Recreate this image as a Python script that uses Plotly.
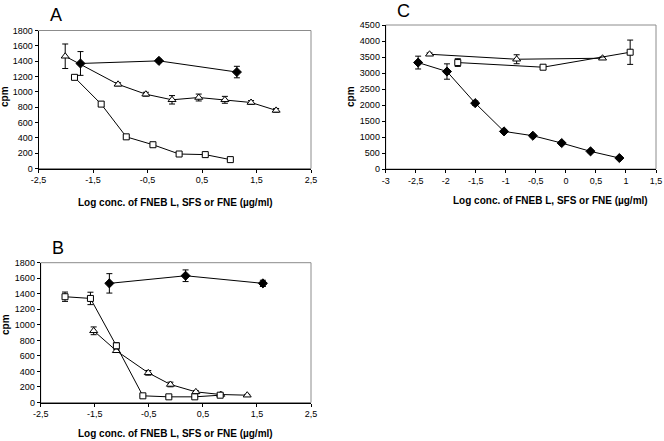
import plotly.graph_objects as go

# ---------------- Data ----------------
# Panel A
a_tri_x = [-2.01, -1.04, -0.53, -0.05, 0.44, 0.92, 1.40, 1.86]
a_tri_y = [1464, 1098, 969, 896, 926, 896, 861, 758]
a_tri_e = [160, 20, 25, 55, 45, 45, 25, 25]
a_dia_x = [-1.73, -0.29, 1.14]
a_dia_y = [1370, 1404, 1258]
a_dia_e = [155, 20, 75]
a_sq_x = [-1.84, -1.35, -0.89, -0.40, 0.08, 0.56, 1.02]
a_sq_y = [1189, 840, 413, 310, 189, 181, 116]
a_sq_e = [20, 30, 15, 15, 15, 10, 10]

# Panel B
b_dia_x = [-1.23, 0.18, 1.61]
b_dia_y = [1534, 1632, 1534]
b_dia_e = [125, 75, 40]
b_sq_x = [-2.05, -1.58, -1.10, -0.61, -0.13, 0.35, 0.82]
b_sq_y = [1362, 1340, 730, 86, 73, 73, 94]
b_sq_e = [60, 80, 40, 10, 10, 10, 10]
b_tri_x = [-1.52, -1.10, -0.51, -0.10, 0.37, 0.83, 1.32]
b_tri_y = [923, 666, 382, 232, 137, 103, 94]
b_tri_e = [50, 20, 30, 30, 15, 10, 10]

# Panel C
c_dia_x = [-2.46, -1.98, -1.51, -1.03, -0.55, -0.07, 0.41, 0.89]
c_dia_y = [3326, 3046, 2058, 1175, 1040, 811, 551, 343]
c_dia_e = [200, 240, 70, 40, 40, 40, 40, 40]
c_tri_x = [-2.27, -0.82, 0.61]
c_tri_y = [3586, 3430, 3462]
c_tri_e = [40, 140, 40]
c_sq_x = [-1.80, -0.38, 1.07]
c_sq_y = [3326, 3181, 3649]
c_sq_e = [120, 60, 380]

ab_ticks = [-2.5, -1.5, -0.5, 0.5, 1.5, 2.5]
ab_ticktext = ["-2,5", "-1,5", "-0,5", "0,5", "1,5", "2,5"]
ab_yticks = [0, 200, 400, 600, 800, 1000, 1200, 1400, 1600, 1800]
c_ticks = [-3, -2.5, -2, -1.5, -1, -0.5, 0, 0.5, 1, 1.5]
c_ticktext = ["-3", "-2,5", "-2", "-1,5", "-1", "-0,5", "0", "0,5", "1", "1,5"]
c_yticks = [0, 500, 1000, 1500, 2000, 2500, 3000, 3500, 4000, 4500]

xtitle = "Log conc. of FNEB L, SFS or FNE (µg/ml)"

# ---------------- Figure ----------------
W, H = 664, 441
FONT = "Liberation Sans, Arial, sans-serif"
fig = go.Figure()

def px_x(p):
    return p / W

def px_y(p):
    return 1 - p / H

def add_series(x, y, e, symbol, fill, xa, ya, size):
    fig.add_trace(go.Scatter(
        x=x, y=y, mode="lines+markers", xaxis=xa, yaxis=ya,
        line=dict(color="black", width=1),
        marker=dict(symbol=symbol, size=size, color=fill,
                    line=dict(color="black", width=1)),
        error_y=dict(type="data", array=e, visible=True,
                     color="black", thickness=1, width=3),
        showlegend=False, cliponaxis=False))

# A -> x/y, B -> x2/y2, C -> x3/y3
add_series(a_dia_x, a_dia_y, a_dia_e, "diamond", "black", "x", "y", 7)
add_series(a_tri_x, a_tri_y, a_tri_e, "triangle-up", "white", "x", "y", 7)
add_series(a_sq_x, a_sq_y, a_sq_e, "square", "white", "x", "y", 6)

add_series(b_dia_x, b_dia_y, b_dia_e, "diamond", "black", "x2", "y2", 7)
add_series(b_tri_x, b_tri_y, b_tri_e, "triangle-up", "white", "x2", "y2", 7)
add_series(b_sq_x, b_sq_y, b_sq_e, "square", "white", "x2", "y2", 6)

add_series(c_dia_x, c_dia_y, c_dia_e, "diamond", "black", "x3", "y3", 7)
add_series(c_tri_x, c_tri_y, c_tri_e, "triangle-up", "white", "x3", "y3", 7)
add_series(c_sq_x, c_sq_y, c_sq_e, "square", "white", "x3", "y3", 6)

tickfont = dict(family=FONT, size=9, color="black")

def xaxis(domain, anchor, rng, tv, tt):
    return dict(domain=domain, anchor=anchor, range=rng, tickvals=tv, ticktext=tt,
                showgrid=False, zeroline=False, showline=True, linecolor="black",
                linewidth=1, ticks="outside", ticklen=3, tickcolor="black",
                tickfont=tickfont, automargin=False, ticklabeloverflow="allow")

def yaxis(domain, anchor, rng, tv):
    return dict(domain=domain, anchor=anchor, range=rng, tickvals=tv,
                showgrid=False, zeroline=False, showline=True, linecolor="black",
                linewidth=1, ticks="outside", ticklen=3, tickcolor="black",
                tickfont=tickfont, automargin=False, ticklabeloverflow="allow")

A_x = [px_x(38.5), px_x(311)]
A_y = [px_y(168.5), px_y(30.5)]
B_x = [px_x(40.7), px_x(311)]
B_y = [px_y(402.5), px_y(262.7)]
C_x = [px_x(385.7), px_x(656)]
C_y = [px_y(169), px_y(25)]

fig.update_layout(
    template="none",
    width=W, height=H, margin=dict(l=0, r=0, t=0, b=0, pad=0),
    paper_bgcolor="white", plot_bgcolor="white",
    font=dict(family=FONT, color="black"),
    xaxis=xaxis(A_x, "y", [-2.5, 2.5], ab_ticks, ab_ticktext),
    yaxis=yaxis(A_y, "x", [0, 1800], ab_yticks),
    xaxis2=xaxis(B_x, "y2", [-2.5, 2.5], ab_ticks, ab_ticktext),
    yaxis2=yaxis(B_y, "x2", [0, 1800], ab_yticks),
    xaxis3=xaxis(C_x, "y3", [-3, 1.5], c_ticks, c_ticktext),
    yaxis3=yaxis(C_y, "x3", [0, 4500], c_yticks),
)

# Gray frame boxes
for xr, yr in [("x", "y"), ("x2", "y2"), ("x3", "y3")]:
    fig.add_shape(type="rect", xref=f"{xr} domain", yref=f"{yr} domain",
                  x0=0, x1=1, y0=0, y1=1, line=dict(color="#8c8c8c", width=1),
                  layer="below")

ann = []
for cx, cy in [(175, 202), (175, 433), (550, 200)]:
    ann.append(dict(text="<b>" + xtitle + "</b>", x=px_x(cx), y=px_y(cy), xref="paper", yref="paper",
                    showarrow=False, font=dict(family=FONT, size=10, color="black"),
                    xanchor="center", yanchor="middle"))
for cx, cy in [(5, 97), (5, 325), (351, 97)]:
    ann.append(dict(text="<b>cpm</b>", x=px_x(cx), y=px_y(cy), xref="paper", yref="paper",
                    showarrow=False, textangle=-90, font=dict(family=FONT, size=10, color="black"),
                    xanchor="center", yanchor="middle"))
for t, cx, cy in [("A", 56, 15), ("B", 58, 248), ("C", 403, 11)]:
    ann.append(dict(text=t, x=px_x(cx), y=px_y(cy), xref="paper", yref="paper",
                    showarrow=False, font=dict(family=FONT, size=18, color="black"),
                    xanchor="center", yanchor="middle"))
fig.update_layout(annotations=ann)

fig.write_html(
    "out.html",
    config={"displayModeBar": False},
    post_script="document.documentElement.style.margin='0';"
                "document.body.style.margin='0';"
                "document.body.style.padding='0';"
                "document.body.style.overflow='hidden';",
)
